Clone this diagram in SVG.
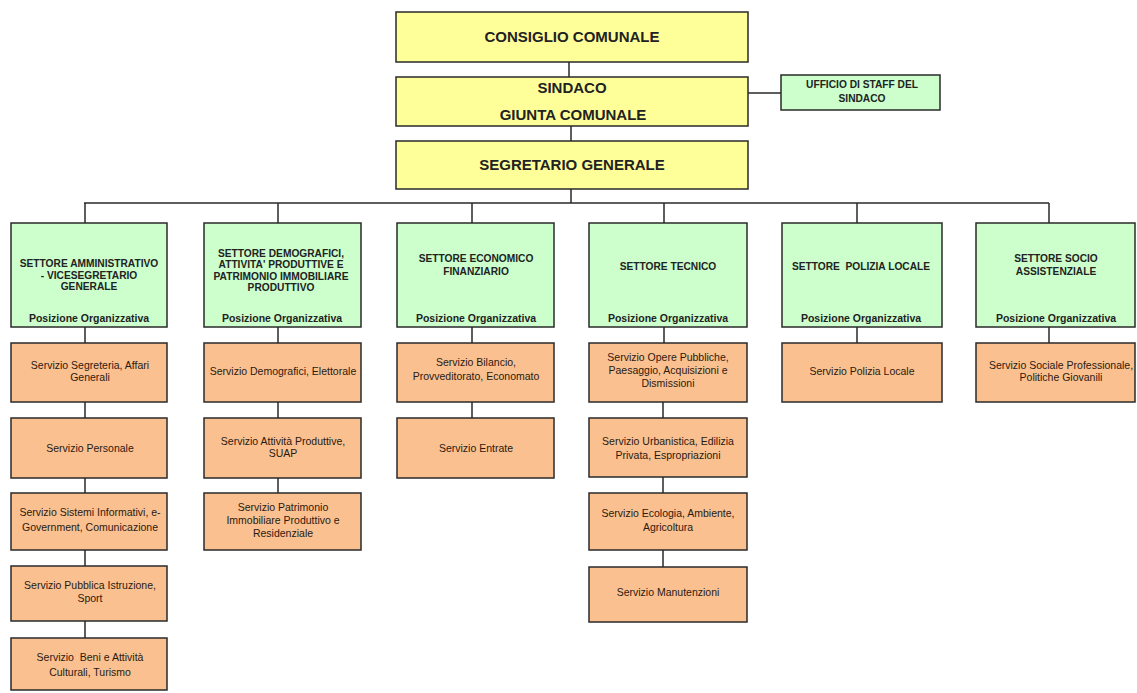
<svg xmlns="http://www.w3.org/2000/svg" width="1137" height="693" viewBox="0 0 1137 693">
<style>
.y{fill:#FFFF99;stroke:#2a2a2a;stroke-width:1.5}
.g{fill:#CCFFCC;stroke:#2a2a2a;stroke-width:1.5}
.o{fill:#FAC090;stroke:#2a2a2a;stroke-width:1.5}
.t{font-family:"Liberation Sans",Arial,sans-serif;font-weight:bold;font-size:15px;fill:#222;text-anchor:middle}
.s{font-family:"Liberation Sans",Arial,sans-serif;font-weight:bold;font-size:10.2px;fill:#222;text-anchor:middle}
.p{font-family:"Liberation Sans",Arial,sans-serif;font-weight:bold;font-size:10.5px;fill:#222;text-anchor:middle}
.v{font-family:"Liberation Sans",Arial,sans-serif;font-size:10.5px;fill:#2a1a10;text-anchor:middle}
.pre{white-space:pre}
.c{stroke:#2a2a2a;stroke-width:1.5;fill:none}
</style>
<rect width="1137" height="693" fill="#fff"/>
<g id="connectors" class="c">
<path d="M569 62V77M571 126V141M571 189V203M84 203H1049M748 93H781"/>
<path d="M85 203V223M278 203V223M472 203V223M664 203V223M857 203V223M1049 203V223"/>
<path d="M85 327V343M85 402V418M85 478V493M85 550V566M85 621V638"/>
<path d="M278 327V343M278 402V418M278 478V493"/>
<path d="M472 327V343M472 402V418"/>
<path d="M664 327V343M663 402V418M663 477V493M663 550V567"/>
<path d="M857 327V343M1049 327V343"/>
</g>
<g id="consiglio"><rect class="y" x="396" y="12" width="352" height="50"/><text class="t" x="572" y="42">CONSIGLIO COMUNALE</text></g>
<g id="sindaco"><rect class="y" x="396" y="77" width="352" height="49"/><text class="t" x="572" y="93">SINDACO</text><text class="t" x="573" y="120">GIUNTA COMUNALE</text></g>
<g id="segretario"><rect class="y" x="396" y="141" width="352" height="48"/><text class="t" x="572" y="170">SEGRETARIO GENERALE</text></g>
<g id="staff"><rect class="g" x="781" y="75" width="159" height="35"/><text class="s" x="862" y="88" font-size="9">UFFICIO DI STAFF DEL</text><text class="s" x="862" y="102" font-size="9">SINDACO</text></g>

<g id="sett-amm"><rect class="g" x="11" y="223" width="156" height="104"/><text class="s" x="89" y="267">SETTORE AMMINISTRATIVO</text><text class="s" x="89" y="279">- VICESEGRETARIO</text><text class="s" x="89" y="290">GENERALE</text><text class="p" x="89" y="322">Posizione Organizzativa</text></g>
<g id="sett-dem"><rect class="g" x="204" y="223" width="157" height="104"/><text class="s" x="281" y="257">SETTORE DEMOGRAFICI,</text><text class="s" x="281" y="268">ATTIVITA' PRODUTTIVE E</text><text class="s" x="281" y="280">PATRIMONIO IMMOBILIARE</text><text class="s" x="281" y="291">PRODUTTIVO</text><text class="p" x="282" y="322">Posizione Organizzativa</text></g>
<g id="sett-eco"><rect class="g" x="397" y="223" width="157" height="104"/><text class="s" x="476" y="262">SETTORE ECONOMICO</text><text class="s" x="476" y="275">FINANZIARIO</text><text class="p" x="476" y="322">Posizione Organizzativa</text></g>
<g id="sett-tec"><rect class="g" x="589" y="223" width="158" height="104"/><text class="s" x="668" y="270">SETTORE TECNICO</text><text class="p" x="668" y="322">Posizione Organizzativa</text></g>
<g id="sett-pol"><rect class="g" x="782" y="223" width="160" height="104"/><text class="s pre" x="861" y="270">SETTORE  POLIZIA LOCALE</text><text class="p" x="861" y="322">Posizione Organizzativa</text></g>
<g id="sett-soc"><rect class="g" x="976" y="223" width="159" height="104"/><text class="s" x="1056" y="262">SETTORE SOCIO</text><text class="s" x="1056" y="275">ASSISTENZIALE</text><text class="p" x="1056" y="322">Posizione Organizzativa</text></g>

<g id="s-segreteria"><rect class="o" x="11" y="343" width="156" height="59"/><text class="v" x="90" y="369">Servizio Segreteria, Affari</text><text class="v" x="90" y="381">Generali</text></g>
<g id="s-personale"><rect class="o" x="11" y="418" width="156" height="60"/><text class="v" x="90" y="452">Servizio Personale</text></g>
<g id="s-sistemi"><rect class="o" x="11" y="493" width="156" height="57"/><text class="v" x="90" y="516">Servizio Sistemi Informativi, e-</text><text class="v" x="90" y="531">Government, Comunicazione</text></g>
<g id="s-istruzione"><rect class="o" x="11" y="566" width="156" height="55"/><text class="v" x="90" y="589">Servizio Pubblica Istruzione,</text><text class="v" x="90" y="602">Sport</text></g>
<g id="s-beni"><rect class="o" x="11" y="638" width="156" height="52"/><text class="v pre" x="90" y="661">Servizio  Beni e Attività</text><text class="v" x="90" y="676">Culturali, Turismo</text></g>

<g id="s-demografici"><rect class="o" x="204" y="343" width="157" height="59"/><text class="v" x="283" y="375">Servizio Demografici, Elettorale</text></g>
<g id="s-attivita"><rect class="o" x="204" y="418" width="157" height="60"/><text class="v" x="283" y="445">Servizio Attività Produttive,</text><text class="v" x="283" y="457">SUAP</text></g>
<g id="s-patrimonio"><rect class="o" x="204" y="493" width="157" height="57"/><text class="v" x="283" y="511">Servizio Patrimonio</text><text class="v" x="283" y="524">Immobiliare Produttivo e</text><text class="v" x="283" y="537">Residenziale</text></g>

<g id="s-bilancio"><rect class="o" x="397" y="343" width="157" height="59"/><text class="v" x="476" y="366">Servizio Bilancio,</text><text class="v" x="476" y="380">Provveditorato, Economato</text></g>
<g id="s-entrate"><rect class="o" x="397" y="418" width="157" height="60"/><text class="v" x="476" y="452">Servizio Entrate</text></g>

<g id="s-opere"><rect class="o" x="589" y="343" width="158" height="59"/><text class="v" x="668" y="361">Servizio Opere Pubbliche,</text><text class="v" x="668" y="374">Paesaggio, Acquisizioni e</text><text class="v" x="668" y="387">Dismissioni</text></g>
<g id="s-urbanistica"><rect class="o" x="589" y="418" width="158" height="59"/><text class="v" x="668" y="445">Servizio Urbanistica, Edilizia</text><text class="v" x="668" y="459">Privata, Espropriazioni</text></g>
<g id="s-ecologia"><rect class="o" x="589" y="493" width="158" height="57"/><text class="v" x="668" y="517">Servizio Ecologia, Ambiente,</text><text class="v" x="668" y="531">Agricoltura</text></g>
<g id="s-manutenzioni"><rect class="o" x="589" y="567" width="158" height="55"/><text class="v" x="668" y="596">Servizio Manutenzioni</text></g>

<g id="s-polizia"><rect class="o" x="782" y="343" width="160" height="59"/><text class="v" x="862" y="375">Servizio Polizia Locale</text></g>
<g id="s-sociale"><rect class="o" x="976" y="343" width="159" height="59"/><text class="v" x="1061" y="369">Servizio Sociale Professionale,</text><text class="v" x="1061" y="381">Politiche Giovanili</text></g>
</svg>
